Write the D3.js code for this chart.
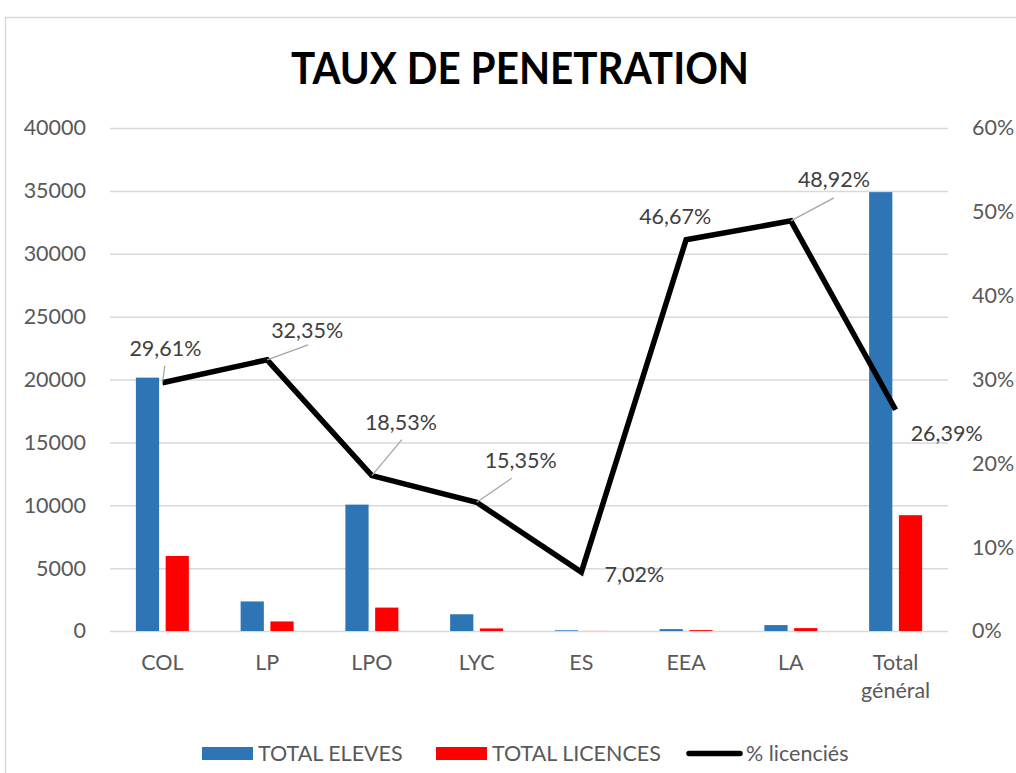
<!DOCTYPE html>
<html>
<head>
<meta charset="utf-8">
<script src="https://cdn.jsdelivr.net/npm/d3@7"></script>
<style>
  html, body { margin: 0; padding: 0; background: #fff; }
  svg { display: block; font-family: Lato, "Open Sans", sans-serif; }
</style>
</head>
<body>
<svg id="chart" width="1016" height="773"></svg>
<script>
// ---- data ----
const categories = ["COL", "LP", "LPO", "LYC", "ES", "EEA", "LA", "Total général"];
const totalEleves = [20150, 2350, 10050, 1330, 57, 150, 470, 34900];
const totalLicences = [5966, 760, 1862, 204, 4, 70, 230, 9210];
const pctLicencies = [0.2961, 0.3235, 0.1853, 0.1535, 0.0702, 0.4667, 0.4892, 0.2639];
const pctLabels = ["29,61%", "32,35%", "18,53%", "15,35%", "7,02%", "46,67%", "48,92%", "26,39%"];
const leftTicks = [0, 5000, 10000, 15000, 20000, 25000, 30000, 35000, 40000];
const rightTicks = [0, 0.1, 0.2, 0.3, 0.4, 0.5, 0.6];
const seriesNames = ["TOTAL ELEVES", "TOTAL LICENCES", "% licenciés"];
const title = "TAUX DE PENETRATION";

// ---- layout (label placement, relative to the line point) ----
const labelOffset = [[3, -27], [40, -22], [29, -46], [44, -34], [53, 10], [-11, -16], [43, -34], [51, 31]];
const leaderEnd = [[2.5, -17], [41, -15], [30, -36], [35, -24], null, null, [43, -23], null];

const svg = d3.select("#chart");
const L = 110, R = 948, T = 128, B = 631;
const colors = { eleves: "#2E75B6", licences: "#FF0000", line: "#000000" };

// chart border
svg.append("rect").attr("x", 5.5).attr("y", 17.5).attr("width", 1040).attr("height", 800)
  .attr("fill", "#fff").attr("stroke", "#d9d9d9").attr("stroke-width", 1.5);

// title
svg.append("text").attr("x", 520).attr("y", 84).attr("text-anchor", "middle")
  .attr("font-size", 43).attr("font-weight", 700).attr("fill", "#000")
  .attr("textLength", 458).attr("lengthAdjust", "spacingAndGlyphs")
  .text(title);

const y = d3.scaleLinear().domain([0, 40000]).range([B, T]);
const y2 = d3.scaleLinear().domain([0, 0.6]).range([B, T]);
const x0 = d3.scaleBand().domain(categories).range([L, R]).paddingInner(0.494).paddingOuter(0.247);
const x1 = d3.scaleBand().domain(["eleves", "licences"]).range([0, x0.bandwidth()]).paddingInner(0.22);
const xc = c => x0(c) + x0.bandwidth() / 2;

// gridlines
const grid = svg.append("g").attr("transform", `translate(${L},0)`)
  .call(d3.axisLeft(y).tickValues(leftTicks).tickSize(-(R - L)).tickFormat(""));
grid.select(".domain").remove();
grid.selectAll("line").attr("stroke", "#d9d9d9").attr("stroke-width", 1.5);

// left axis labels
const la = svg.append("g").attr("transform", `translate(${L},0)`)
  .call(d3.axisLeft(y).tickValues(leftTicks).tickSize(0).tickPadding(24).tickFormat(d3.format("d")));
la.select(".domain").remove();
la.selectAll("text").attr("font-size", 21.5).attr("fill", "#595959").attr("font-family", "Lato");

// right axis labels
const ra = svg.append("g").attr("transform", `translate(${R},0)`)
  .call(d3.axisRight(y2).tickValues(rightTicks).tickSize(0).tickPadding(24).tickFormat(d3.format(".0%")));
ra.select(".domain").remove();
ra.selectAll("text").attr("font-size", 21.5).attr("fill", "#595959").attr("font-family", "Lato");

// bottom axis labels
const ba = svg.append("g").attr("transform", `translate(0,${B})`)
  .call(d3.axisBottom(x0).tickSize(0).tickPadding(0));
ba.select(".domain").remove();
ba.selectAll("text").each(function(d) {
  const t = d3.select(this).text("").attr("font-size", 21.5).attr("fill", "#595959")
    .attr("font-family", "Lato").attr("dy", null).attr("y", 0);
  const words = d.split(" ");
  words.forEach((w, i) => {
    t.append("tspan").attr("x", 0).attr("y", 39 + i * 28).text(w);
  });
});

// bars
const groups = svg.append("g").selectAll("g").data(categories).join("g")
  .attr("transform", c => `translate(${x0(c)},0)`);
groups.append("rect")
  .attr("x", x1("eleves")).attr("width", x1.bandwidth())
  .attr("y", (c, i) => y(totalEleves[i])).attr("height", (c, i) => B - y(totalEleves[i]))
  .attr("fill", colors.eleves);
groups.append("rect")
  .attr("x", x1("licences")).attr("width", x1.bandwidth())
  .attr("y", (c, i) => y(totalLicences[i])).attr("height", (c, i) => B - y(totalLicences[i]))
  .attr("fill", colors.licences);

// line
const pts = categories.map((c, i) => [xc(c), y2(pctLicencies[i])]);
svg.append("path").attr("d", d3.line()(pts)).attr("fill", "none")
  .attr("stroke", colors.line).attr("stroke-width", 5.5).attr("stroke-linejoin", "miter");

// leader lines
pts.forEach((p, i) => {
  const e = leaderEnd[i];
  if (!e) return;
  svg.append("line").attr("x1", p[0]).attr("y1", p[1]).attr("x2", p[0] + e[0]).attr("y2", p[1] + e[1])
    .attr("stroke", "#a6a6a6").attr("stroke-width", 1.3);
});
// data labels
svg.append("g").selectAll("text").data(pts).join("text")
  .attr("x", (p, i) => p[0] + labelOffset[i][0]).attr("y", (p, i) => p[1] + labelOffset[i][1])
  .attr("text-anchor", "middle").attr("font-size", 21.5).attr("fill", "#404040")
  .text((p, i) => pctLabels[i]);

// legend
const legend = svg.append("g");
const lx = [202, 436, 687];
legend.append("rect").attr("x", lx[0]).attr("y", 747).attr("width", 51).attr("height", 13).attr("fill", colors.eleves);
legend.append("rect").attr("x", lx[1]).attr("y", 747).attr("width", 51).attr("height", 13).attr("fill", colors.licences);
legend.append("line").attr("x1", lx[2] + 2).attr("x2", lx[2] + 53).attr("y1", 753.5).attr("y2", 753.5)
  .attr("stroke", colors.line).attr("stroke-width", 5.5).attr("stroke-linecap", "round");
[lx[0] + 56, lx[1] + 56, lx[2] + 59].forEach((x, i) => {
  legend.append("text").attr("x", x).attr("y", 761).attr("font-size", 21.5).attr("fill", "#595959")
    .text(seriesNames[i]);
});
</script>
</body>
</html>
